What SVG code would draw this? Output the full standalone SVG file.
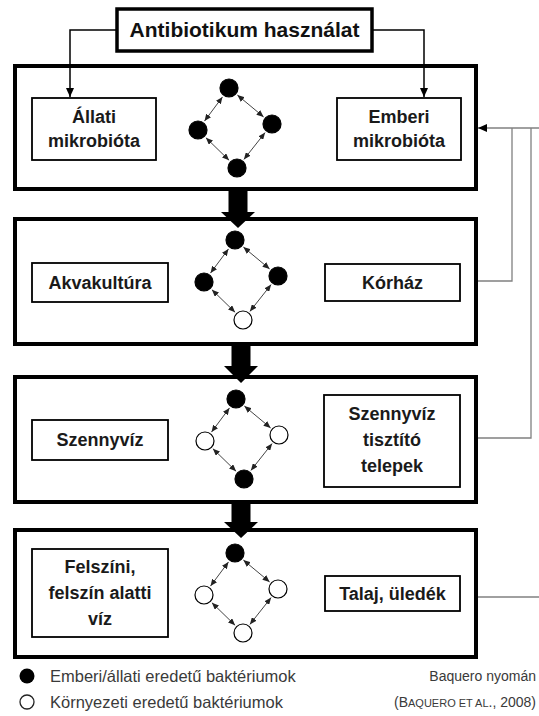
<svg xmlns="http://www.w3.org/2000/svg" width="539" height="716" viewBox="0 0 539 716">
<style>
.panel{fill:#fff;stroke:#000;stroke-width:4}
.box{fill:#fff;stroke:#000;stroke-width:1.8}
.top{fill:#fff;stroke:#000;stroke-width:3.5}
.lbl{font-family:"Liberation Sans",Arial,sans-serif;font-weight:bold;font-size:18px;fill:#1a1a1a;text-anchor:middle}
.title{font-family:"Liberation Sans",Arial,sans-serif;font-weight:bold;font-size:21px;fill:#111;text-anchor:middle}
.leg{font-family:"Liberation Sans",Arial,sans-serif;font-size:16.5px;fill:#3a3a3a}
.ref{font-family:"Liberation Sans",Arial,sans-serif;font-size:14px;fill:#3a3a3a;text-anchor:end}
.dar{stroke:#444;stroke-width:1;fill:none;marker-start:url(#sm);marker-end:url(#sm)}
.fc{fill:#000;stroke:#000;stroke-width:1.2}
.oc{fill:#fff;stroke:#000;stroke-width:1.2}
.conn{stroke:#000;stroke-width:1.5;fill:none}
.fb{stroke:#808080;stroke-width:1.3;fill:none}
.big{fill:#000}
</style>
<defs>
<marker id="sm" markerUnits="userSpaceOnUse" markerWidth="7" markerHeight="6" refX="7" refY="3" orient="auto-start-reverse"><path d="M0,0 L7,3 L0,6 z" fill="#222"/></marker>
<marker id="am" markerUnits="userSpaceOnUse" markerWidth="9" markerHeight="8" refX="9" refY="4" orient="auto"><path d="M0,0 L9,4 L0,8 z" fill="#000"/></marker>
<g id="dArrows">
<line class="dar" x1="-6.5" y1="8.9" x2="-24.5" y2="33.1"/>
<line class="dar" x1="8.4" y1="7.1" x2="34.6" y2="28.9"/>
<line class="dar" x1="-23.1" y1="49.7" x2="0.1" y2="72.3"/>
<line class="dar" x1="36.1" y1="44.6" x2="14.9" y2="71.4"/>
</g>
</defs>
<rect width="539" height="716" fill="#fff"/>

<g id="panel1"><rect class="panel" x="15" y="66" width="461" height="123"/></g>
<g id="panel2"><rect class="panel" x="15" y="219" width="461" height="125"/></g>
<g id="panel3"><rect class="panel" x="15" y="377" width="461" height="125"/></g>
<g id="panel4"><rect class="panel" x="15" y="530" width="461" height="127"/></g>

<g id="connectors">
<polygon class="big" points="228.5,189 247.5,189 247.5,212 255,212 238,228 221,212 228.5,212"/>
<polygon class="big" points="231.5,344 250.5,344 250.5,366 258,366 241,383 224,366 231.5,366"/>
<polygon class="big" points="231.5,502 250.5,502 250.5,522 258,522 241,538 224,522 231.5,522"/>
<polyline class="conn" points="117,30 70,30 70,97" marker-end="url(#am)"/>
<polyline class="conn" points="372,30 424,30 424,97" marker-end="url(#am)"/>
<line class="fb" x1="539" y1="128" x2="478" y2="128" marker-end="url(#am)"/>
<polyline class="fb" points="478,281 512,281 512,128"/>
<polyline class="fb" points="478,438 531,438 531,128"/>
<line class="fb" x1="478" y1="597" x2="539" y2="597"/>
<use href="#dArrows" transform="translate(229,88)"/>
<use href="#dArrows" transform="translate(235,240)"/>
<use href="#dArrows" transform="translate(236,399)"/>
<use href="#dArrows" transform="translate(235,553)"/>
</g>

<g id="antibiotikum"><rect class="top" x="117" y="9" width="255" height="42"/><text class="title" x="244.5" y="37">Antibiotikum használat</text></g>

<g id="allati"><rect class="box" x="32" y="98" width="124" height="62"/><text class="lbl" x="94" y="123">Állati</text><text class="lbl" x="94" y="147">mikrobióta</text></g>
<g id="emberi"><rect class="box" x="337" y="98" width="124" height="62"/><text class="lbl" x="399" y="123">Emberi</text><text class="lbl" x="399" y="147">mikrobióta</text></g>
<g id="p1circles"><circle class="fc" cx="229" cy="88" r="9"/><circle class="fc" cx="198" cy="130" r="9"/><circle class="fc" cx="272" cy="124" r="9"/><circle class="fc" cx="237" cy="168" r="9"/></g>

<g id="akvakultura"><rect class="box" x="32" y="263" width="136" height="39"/><text class="lbl" x="100" y="289">Akvakultúra</text></g>
<g id="korhaz"><rect class="box" x="325" y="264" width="135" height="37"/><text class="lbl" x="392.5" y="289">Kórház</text></g>
<g id="p2circles"><circle class="fc" cx="235" cy="240" r="9"/><circle class="fc" cx="204" cy="282" r="9"/><circle class="fc" cx="278" cy="276" r="9"/><circle class="oc" cx="243" cy="320" r="9"/></g>

<g id="szennyviz"><rect class="box" x="32" y="420" width="136" height="40"/><text class="lbl" x="100" y="446">Szennyvíz</text></g>
<g id="tisztito"><rect class="box" x="324" y="395" width="136" height="92"/><text class="lbl" x="392" y="420">Szennyvíz</text><text class="lbl" x="392" y="446">tisztító</text><text class="lbl" x="392" y="472">telepek</text></g>
<g id="p3circles"><circle class="fc" cx="236" cy="399" r="9"/><circle class="oc" cx="205" cy="441" r="9"/><circle class="oc" cx="279" cy="435" r="9"/><circle class="fc" cx="244" cy="479" r="9"/></g>

<g id="felszini"><rect class="box" x="32" y="549" width="136" height="88"/><text class="lbl" x="100" y="573">Felszíni,</text><text class="lbl" x="100" y="599">felszín alatti</text><text class="lbl" x="100" y="625">víz</text></g>
<g id="talaj"><rect class="box" x="325" y="576" width="135" height="35"/><text class="lbl" x="392.5" y="600">Talaj, üledék</text></g>
<g id="p4circles"><circle class="fc" cx="235" cy="553" r="9"/><circle class="oc" cx="204" cy="595" r="9"/><circle class="oc" cx="278" cy="589" r="9"/><circle class="oc" cx="243" cy="633" r="9"/></g>

<g id="legend">
<circle cx="27" cy="676" r="7.5" fill="#000"/>
<text class="leg" x="50" y="682">Emberi/állati eredetű baktériumok</text>
<circle cx="27" cy="702" r="7" fill="#fff" stroke="#222" stroke-width="1.3"/>
<text class="leg" x="50" y="708">Környezeti eredetű baktériumok</text>
<text class="ref" x="536" y="681">Baquero nyomán</text>
<text class="ref" x="536" y="707">(B<tspan font-size="11">AQUERO ET AL</tspan>., 2008)</text>
</g>
</svg>
